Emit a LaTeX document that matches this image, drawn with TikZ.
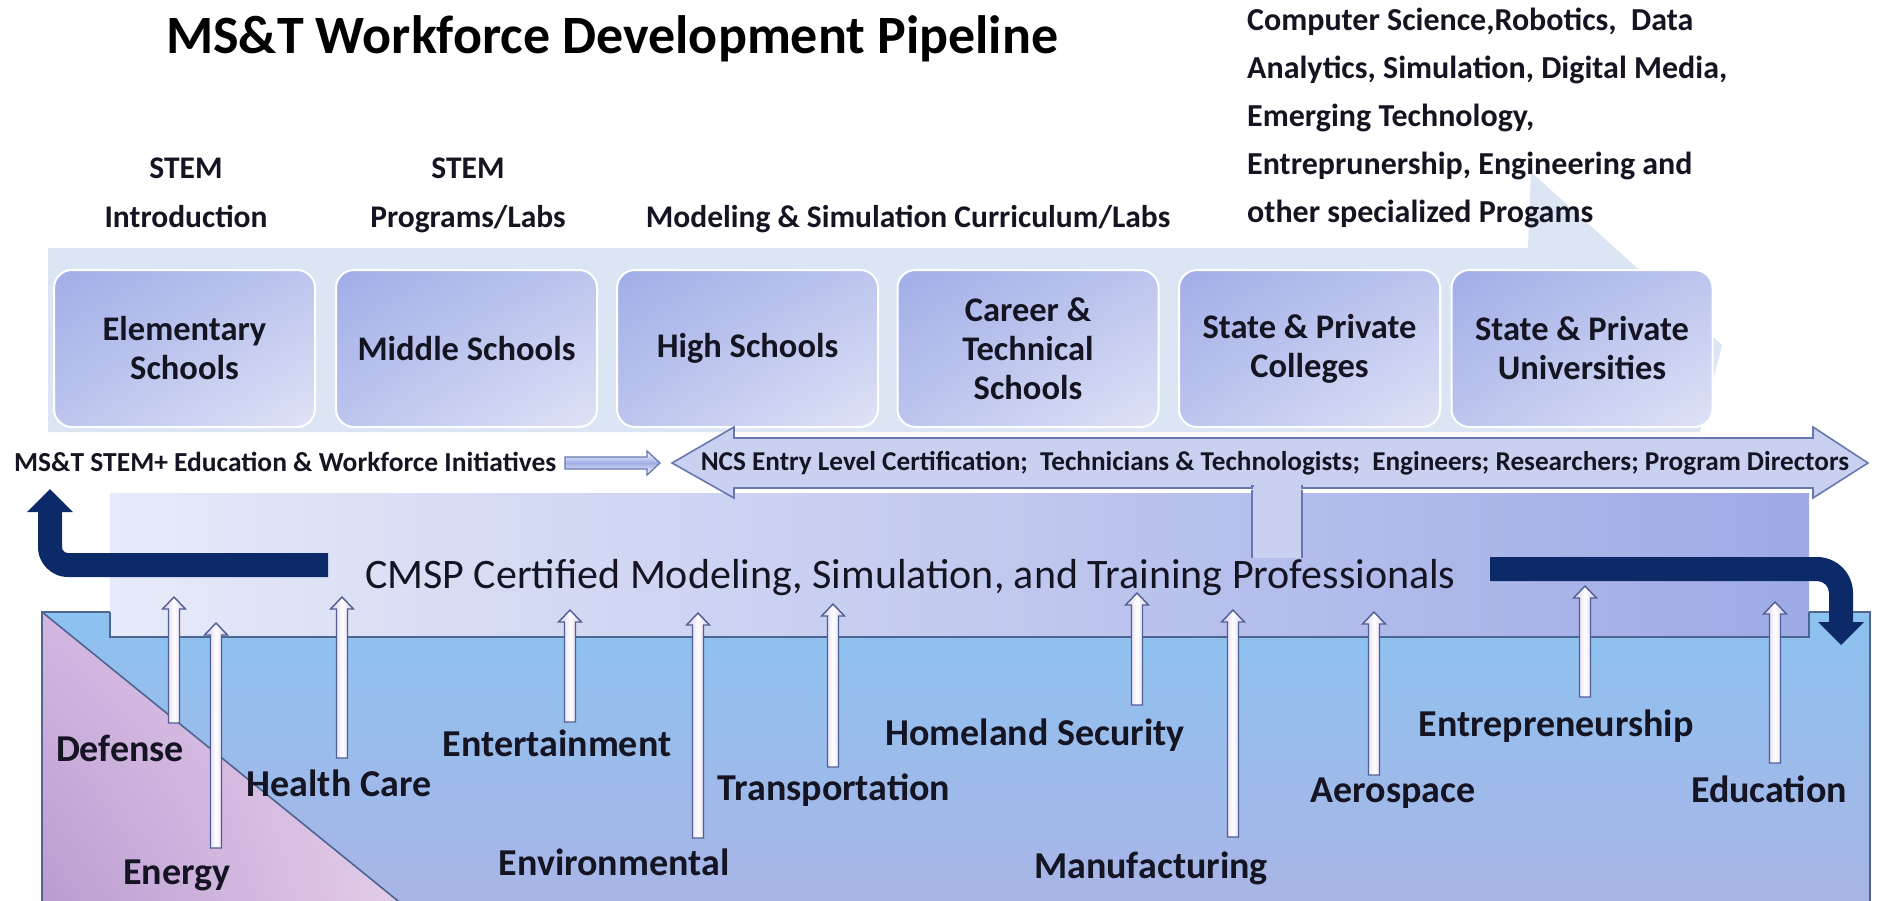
\documentclass[tikz,border=0pt]{standalone}
\usepackage{fontspec}
\setmainfont{Carlito}
\usetikzlibrary{shadings}
\definecolor{bandc}{HTML}{DCE5F4}
\definecolor{navyc}{HTML}{0D2A68}
\definecolor{dafill}{HTML}{C9D0F0}
\definecolor{daline}{HTML}{6878AE}
\definecolor{rectline}{HTML}{4E6592}
\definecolor{arrline}{HTML}{4F5F94}
\definecolor{lilac}{HTML}{D6C6EC}
\definecolor{boxA}{HTML}{A1ADE7}
\definecolor{boxB}{HTML}{BDC5EE}
\definecolor{boxC}{HTML}{DFE3F6}
\definecolor{skyA}{HTML}{8CC2F0}
\definecolor{skyB}{HTML}{A9B5E6}
\definecolor{pinkA}{HTML}{D3B7E1}
\definecolor{pinkB}{HTML}{E4CDE9}
\definecolor{pinkC}{HTML}{BA9BD1}
\definecolor{panA}{HTML}{E7EAF8}
\definecolor{panB}{HTML}{9EAAE6}
\definecolor{txtc}{HTML}{141422}
\newcommand{\indarrow}[3]{%
  \draw[uparr] ({#1-5.5},#3) -- ({#1-5.5},{#2+12}) -- ({#1-11.5},{#2+12}) -- (#1,#2)
    -- ({#1+11.5},{#2+12}) -- ({#1+5.5},{#2+12}) -- ({#1+5.5},#3) -- cycle;}
\tikzset{
  schoolbox/.style={rounded corners=18pt, draw=white, line width=2pt,
    upper left=boxA, upper right=boxB, lower left=boxB, lower right=boxC,
    minimum width=261pt, minimum height=157pt, align=center,
    font=\fontsize{34.5}{39}\selectfont\bfseries, text=txtc, inner sep=0pt},
  toplbl/.style={font=\fontsize{31.5}{49}\selectfont\bfseries, align=center,
    inner sep=0pt, anchor=north, text=txtc},
  rtxt/.style={font=\fontsize{32}{48}\selectfont\bfseries, align=left,
    inner sep=0pt, anchor=north west, text=txtc},
  indlbl/.style={font=\fontsize{38}{44}\selectfont\bfseries, inner sep=0pt,
    anchor=base, text=txtc},
  uparr/.style={draw=arrline, line width=1.4pt, left color=lilac,
    right color=lilac, middle color=white},
  navyarrow/.style={fill=navyc},
}
\begin{document}
\begin{tikzpicture}[x=1pt,y=-1pt]
\useasboundingbox (0,0) rectangle (1878,900);
\fill[white] (0,0) rectangle (1878,900);

% pipeline band behind the schools
\fill[bandc] (48,248) -- (1528,248) -- (1531,172) -- (1722,345) -- (1700,432)
  -- (48,432) -- cycle;

% title and top labels
\node[anchor=base west, inner sep=0pt, font=\fontsize{54}{60}\selectfont\bfseries,
  text=black] (title) at (166,53) {MS\&T Workforce Development Pipeline};
\node[toplbl] (intro) at (186,158) {STEM\\Introduction};
\node[toplbl] (progs) at (468,158) {STEM\\Programs/Labs};
\node[anchor=base, inner sep=0pt, font=\fontsize{31.5}{49}\selectfont\bfseries,
  text=txtc] (msc) at (908,227) {Modeling \& Simulation Curriculum/Labs};
\node[rtxt] (spec) at (1247,8) {Computer Science,Robotics,\ \ Data\\
  Analytics, Simulation, Digital Media,\\Emerging Technology,\\
  Entreprunership, Engineering and\\other specialized Progams};

% school boxes
\node[schoolbox] (b1) at (184.5,348.5) {Elementary\\Schools};
\node[schoolbox] (b2) at (466.5,348.5) {Middle Schools};
\node[schoolbox] (b3) at (747.5,348.5) {High Schools};
\node[schoolbox] (b4) at (1028,348.5) {Career \&\\Technical\\Schools};
\node[schoolbox] (b5) at (1309.5,348.5) {State \& Private\\Colleges};
\node[schoolbox] (b6) at (1582,348.5) {State \& Private\\Universities};

% industry field (blue) with triangle
\fill[top color=skyA, bottom color=skyB] (42,612) rectangle (1870,905);
\fill[upper left=pinkA, upper right=pinkB, lower left=pinkC, lower right=pinkB]
  (42,612) -- (403,905) -- (42,905) -- cycle;
\draw[rectline, line width=1.6pt] (42,905) -- (42,612) -- (1870,612) -- (1870,905);
\draw[rectline, line width=1.6pt] (42,612) -- (403,905);

% certified professionals panel
\fill[left color=panA, right color=panB] (110,492) rectangle (1809,637);
\draw[rectline, line width=1.6pt] (110,612) -- (110,637) -- (1809,637) -- (1809,612);
\draw[white, line width=2pt] (110,492) -- (1809,492);

% career ladder double arrow
\fill[dafill] (1252,484) rectangle (1302,558);
\draw[daline, line width=1.4pt] (1252,490) -- (1252,558);
\draw[daline, line width=1.4pt] (1302,490) -- (1302,558);
\draw[daline, line width=1.6pt, fill=dafill]
  (672,463) -- (734,427) -- (734,438) -- (1813,438) -- (1813,427) -- (1868,463)
  -- (1813,498) -- (1813,488) -- (1302,488) -- (1302,486) -- (1252,486) -- (1252,488)
  -- (734,488) -- (734,498) -- cycle;
\fill[dafill] (1253.5,484) rectangle (1300.5,492);
\node[inner sep=0pt, font=\fontsize{27.2}{30}\selectfont\bfseries, text=txtc] (careers)
  at (1275,463) {NCS Entry Level Certification;\ \ Technicians \& Technologists;\ \ Engineers; Researchers; Program Directors};

% initiatives text and small arrow
\node[anchor=base west, inner sep=0pt, font=\fontsize{27.5}{30}\selectfont\bfseries,
  text=txtc] (init) at (14,471) {MS\&T STEM+ Education \& Workforce Initiatives};
\draw[draw=daline, line width=1.3pt, top color=white, bottom color=white,
  middle color=boxA]
  (565,457) -- (647,457) -- (647,451) -- (660,463) -- (647,475) -- (647,469)
  -- (565,469) -- cycle;

% upward arrows from industries
\indarrow{174}{597}{723}
\indarrow{216}{623}{848}
\indarrow{342}{597}{758}
\indarrow{570}{610}{722}
\indarrow{698}{613}{838}
\indarrow{833}{604}{767}
\indarrow{1137}{593}{705}
\indarrow{1233}{610}{837}
\indarrow{1374}{612}{775}
\indarrow{1585}{586}{697}
\indarrow{1775}{602}{763}

% CMSP text
\node[anchor=base west, inner sep=0pt, font=\fontsize{42}{48}\selectfont,
  text=txtc] (cmsp) at (365,588)
  {CMSP Certified Modeling, Simulation, and Training Professionals};

% navy bent arrows
\fill[navyarrow] (328,553) -- (68,553) arc (90:180:6) -- (62,512) -- (73,512)
  -- (50,489) -- (27,512) -- (38,512) -- (38,547) arc (180:90:30) -- (328,577) -- cycle;
\fill[navyarrow] (1490,557) -- (1817,557) arc (270:360:36) -- (1853,622) -- (1864,622)
  -- (1841,645) -- (1818,622) -- (1829,622) -- (1829,593) arc (0:-90:12)
  -- (1490,581) -- cycle;

% industry labels
\node[indlbl] (def) at (120,761) {Defense};
\node[indlbl] (ene) at (177,884) {Energy};
\node[indlbl] (hea) at (339,796) {Health Care};
\node[indlbl] (ent) at (557,756) {Entertainment};
\node[indlbl] (env) at (614,875) {Environmental};
\node[indlbl] (tra) at (834,800) {Transportation};
\node[indlbl] (hom) at (1035,745) {Homeland Security};
\node[indlbl] (man) at (1151,878) {Manufacturing};
\node[indlbl] (aer) at (1393,802) {Aerospace};
\node[indlbl] (entr) at (1556,736) {Entrepreneurship};
\node[indlbl] (edu) at (1769,802) {Education};
\end{tikzpicture}
\end{document}
